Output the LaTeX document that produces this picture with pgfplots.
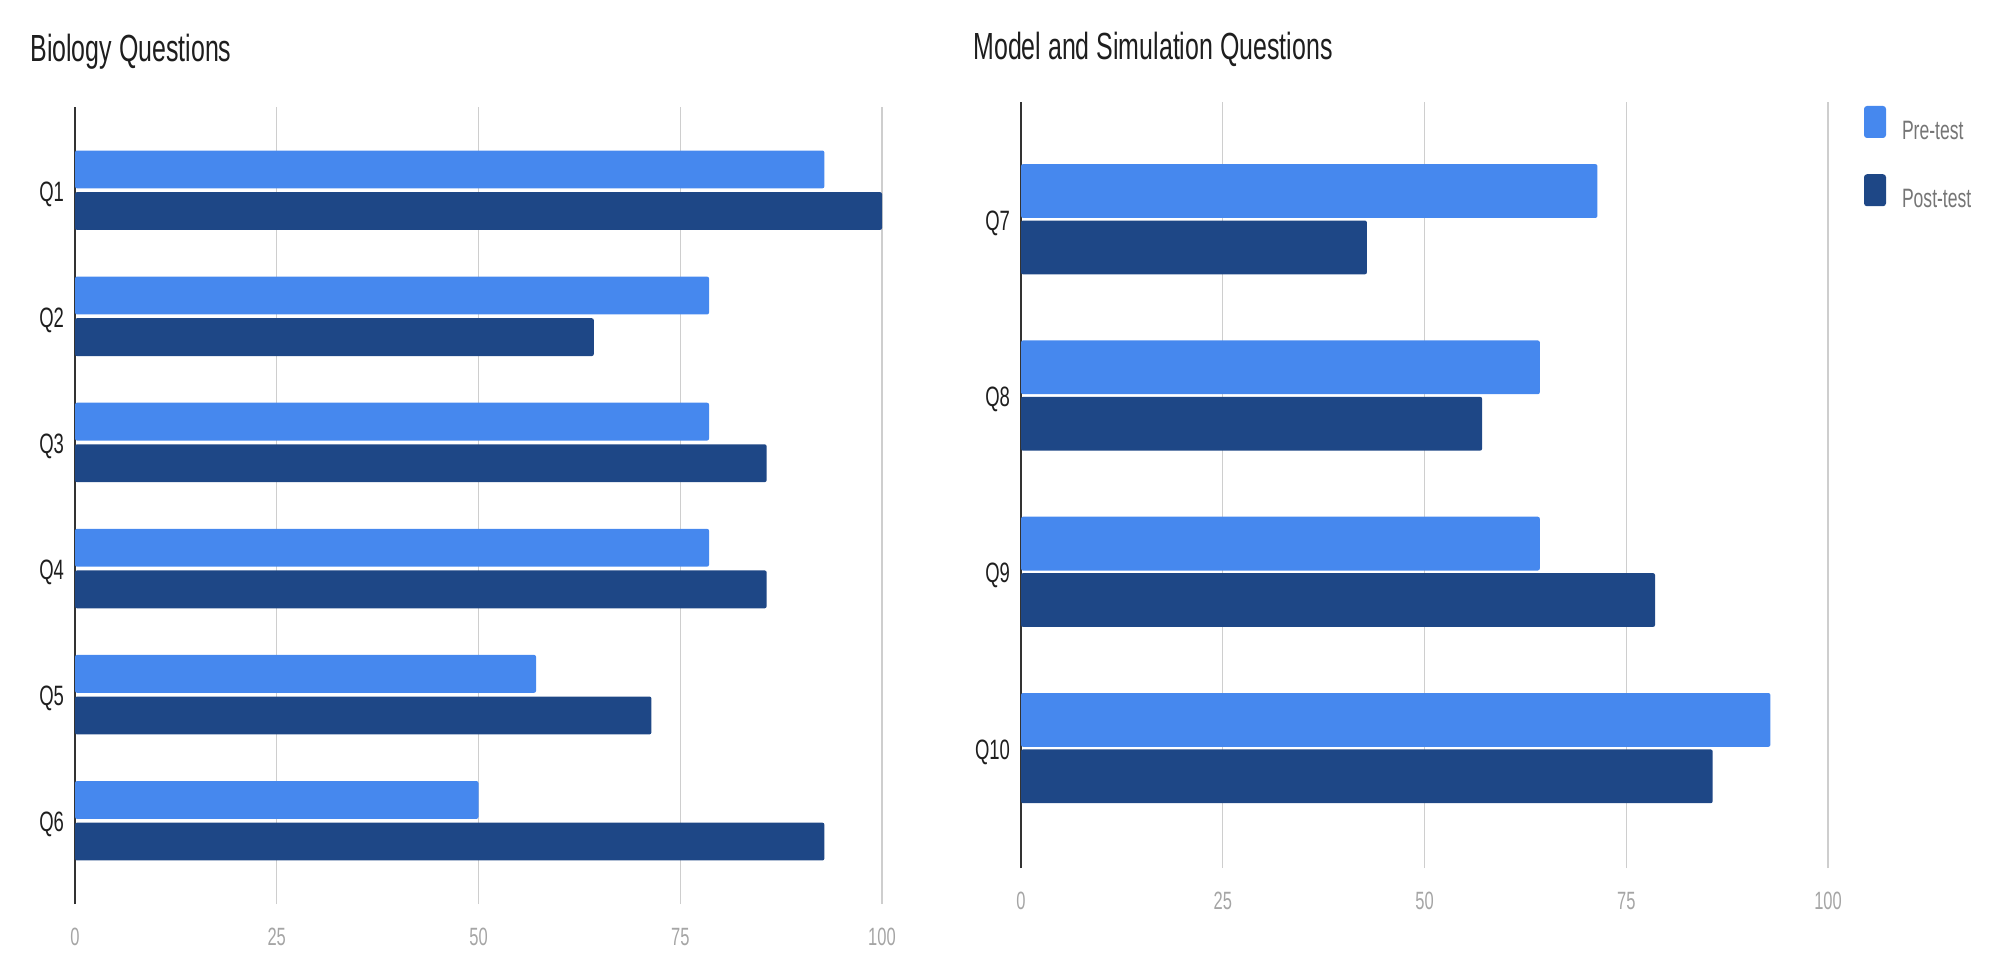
\documentclass[border=0pt]{standalone}
\usepackage{pgfplots}
\pgfplotsset{compat=1.18}
\usepackage{fontspec}
\setmainfont[FakeStretch=0.66]{Liberation Sans}
\definecolor{pre}{RGB}{70,136,238}
\definecolor{post}{RGB}{30,71,134}
\definecolor{gridc}{RGB}{206,206,206}
\definecolor{ticktext}{RGB}{165,165,165}
\definecolor{legtext}{RGB}{117,117,117}
\definecolor{labtext}{RGB}{30,30,30}
\pgfplotsset{
  gbar/.style={
    scale only axis, xmin=0, xmax=100,
    xtick={0,25,50,75,100}, xticklabels={0,25,50,75,100},
    xmajorgrids, grid style={gridc, line width=0.6pt},
    axis lines=left, x axis line style={draw=none},
    y axis line style={-, black!80, line width=0.7pt},
    major tick length=0pt,
    xticklabel style={anchor=center, yshift=-16.5pt, font=\fontsize{12.5}{14}\selectfont, text=ticktext},
    yticklabel style={font=\fontsize{14}{16}\selectfont, text=labtext, xshift=-2pt, yshift=-2pt},
    xbar,
  }
}
\begin{document}
\begin{tikzpicture}
\path[use as bounding box] (0,0) rectangle (1004pt,485.5pt);
\node[anchor=base west, inner sep=0pt, text=labtext, font=\fontsize{18.9}{22}\selectfont] at (15pt,454.5pt) {Biology Questions};
\node[anchor=base west, inner sep=0pt, text=labtext, font=\fontsize{18.9}{22}\selectfont] at (486.5pt,455.5pt) {Model and Simulation Questions};
\begin{axis}[gbar, at={(37.5pt,33.5pt)}, anchor=south west,
  width=403.5pt, height=398.5pt, ymin=0.34, ymax=6.66,
  ytick={1,2,3,4,5,6}, yticklabels={Q6,Q5,Q4,Q3,Q2,Q1}]
\addplot[fill=pre, draw=none, bar width=0.3, bar shift=0.165, rounded corners=1pt]
  coordinates {(92.86,6) (78.57,5) (78.57,4) (78.57,3) (57.14,2) (50,1)};
\addplot[fill=post, draw=none, bar width=0.3, bar shift=-0.165, rounded corners=1pt]
  coordinates {(100,6) (64.29,5) (85.71,4) (85.71,3) (71.43,2) (92.86,1)};
\end{axis}
\begin{axis}[gbar, at={(510.5pt,51.5pt)}, anchor=south west,
  width=403.5pt, height=383pt, ymin=0.32, ymax=4.665,
  ytick={1,2,3,4}, yticklabels={Q10,Q9,Q8,Q7},
  legend style={at={(rel axis cs:1.0446,0.9948)}, anchor=north west, draw=none, fill=none,
    inner sep=0pt, outer sep=0pt, row sep=16pt,
    font=\fontsize{13.3}{15}\selectfont, text=legtext,
    nodes={inner sep=0pt},
    /tikz/every odd column/.append style={column sep=8pt}},
  legend cell align=left,
  legend image code/.code={\fill[rounded corners=1.5pt] (0pt,-3.2pt) rectangle (11pt,12.8pt);}]
\addplot[fill=pre, draw=none, bar width=0.305, bar shift=0.16, rounded corners=1pt]
  coordinates {(71.43,4) (64.29,3) (64.29,2) (92.86,1)};
\addlegendentry{Pre-test}
\addplot[fill=post, draw=none, bar width=0.305, bar shift=-0.16, rounded corners=1pt]
  coordinates {(42.86,4) (57.14,3) (78.57,2) (85.71,1)};
\addlegendentry{Post-test}
\end{axis}
\end{tikzpicture}
\end{document}
